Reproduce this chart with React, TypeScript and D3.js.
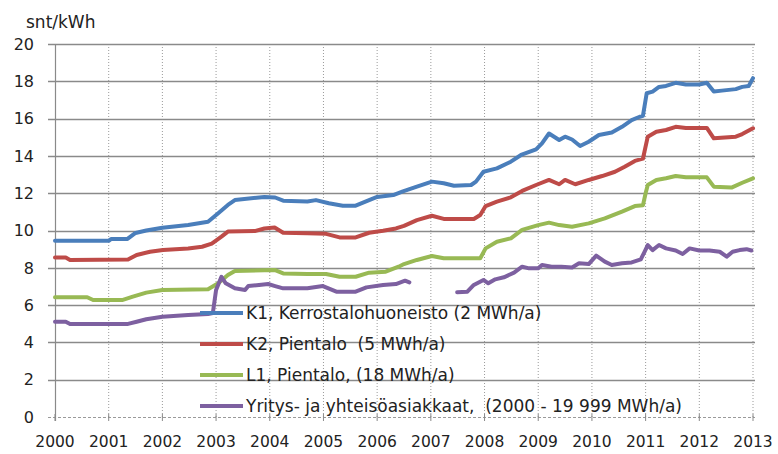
import React from 'react';
import * as d3 from 'd3';

// prices in snt/kWh (decimal years)
const k1Years = [2000.0, 2001.0, 2001.05, 2001.35, 2001.5, 2001.7, 2002.0, 2002.48, 2002.85, 2003.04, 2003.22, 2003.35, 2003.9, 2004.1, 2004.25, 2004.7, 2004.86, 2005.1, 2005.36, 2005.6, 2005.85, 2006.0, 2006.3, 2006.48, 2006.74, 2007.02, 2007.24, 2007.43, 2007.75, 2007.84, 2007.98, 2008.23, 2008.49, 2008.68, 2008.96, 2009.07, 2009.2, 2009.39, 2009.5, 2009.63, 2009.78, 2009.94, 2010.13, 2010.37, 2010.56, 2010.74, 2010.89, 2010.95, 2011.02, 2011.13, 2011.25, 2011.38, 2011.56, 2011.75, 2012.0, 2012.14, 2012.27, 2012.42, 2012.68, 2012.8, 2012.92, 2013.0];
const k1Values = [9.45, 9.45, 9.55, 9.55, 9.87, 10.0, 10.15, 10.3, 10.47, 10.93, 11.37, 11.63, 11.8, 11.77, 11.6, 11.55, 11.63, 11.46, 11.33, 11.33, 11.63, 11.8, 11.9, 12.1, 12.35, 12.62, 12.53, 12.4, 12.44, 12.62, 13.15, 13.33, 13.69, 14.05, 14.35, 14.67, 15.2, 14.85, 15.03, 14.88, 14.53, 14.76, 15.12, 15.25, 15.56, 15.92, 16.1, 16.15, 17.36, 17.45, 17.7, 17.75, 17.92, 17.83, 17.83, 17.92, 17.45, 17.5, 17.58, 17.7, 17.75, 18.17];

const k2Years = [2000.0, 2000.2, 2000.28, 2001.36, 2001.52, 2001.77, 2002.01, 2002.48, 2002.74, 2002.92, 2003.1, 2003.22, 2003.72, 2003.9, 2004.09, 2004.25, 2004.7, 2005.05, 2005.3, 2005.6, 2005.85, 2006.11, 2006.35, 2006.5, 2006.74, 2007.02, 2007.24, 2007.8, 2007.92, 2008.02, 2008.23, 2008.49, 2008.7, 2008.96, 2009.2, 2009.39, 2009.5, 2009.69, 2009.94, 2010.19, 2010.43, 2010.61, 2010.8, 2010.95, 2011.04, 2011.2, 2011.38, 2011.56, 2011.75, 2012.14, 2012.27, 2012.68, 2012.8, 2013.0];
const k2Values = [8.55, 8.55, 8.42, 8.44, 8.69, 8.86, 8.95, 9.04, 9.13, 9.3, 9.67, 9.94, 9.97, 10.11, 10.16, 9.88, 9.85, 9.82, 9.63, 9.63, 9.88, 9.99, 10.11, 10.25, 10.56, 10.79, 10.62, 10.62, 10.83, 11.31, 11.55, 11.78, 12.12, 12.44, 12.71, 12.48, 12.71, 12.48, 12.71, 12.92, 13.15, 13.42, 13.73, 13.85, 15.03, 15.3, 15.39, 15.56, 15.5, 15.5, 14.94, 15.03, 15.17, 15.48];

const l1Years = [2000.0, 2000.6, 2000.71, 2001.25, 2001.45, 2001.7, 2002.0, 2002.85, 2003.04, 2003.22, 2003.35, 2004.1, 2004.25, 2004.7, 2005.05, 2005.3, 2005.6, 2005.85, 2006.16, 2006.4, 2006.5, 2006.74, 2007.02, 2007.24, 2007.92, 2008.02, 2008.23, 2008.49, 2008.7, 2009.0, 2009.2, 2009.39, 2009.63, 2009.94, 2010.24, 2010.56, 2010.8, 2010.95, 2011.0, 2011.04, 2011.2, 2011.38, 2011.56, 2011.75, 2012.14, 2012.27, 2012.6, 2012.8, 2013.0];
const l1Values = [6.42, 6.42, 6.27, 6.27, 6.45, 6.67, 6.81, 6.85, 7.17, 7.61, 7.83, 7.88, 7.7, 7.67, 7.67, 7.52, 7.52, 7.74, 7.79, 8.06, 8.2, 8.42, 8.63, 8.51, 8.51, 9.04, 9.4, 9.58, 10.03, 10.29, 10.42, 10.29, 10.2, 10.38, 10.65, 11.01, 11.31, 11.35, 12.0, 12.44, 12.71, 12.8, 12.92, 12.85, 12.85, 12.35, 12.3, 12.56, 12.8];

// null = no data (gap 2006/2007)
const yrYears = [2000.0, 2000.2, 2000.28, 2001.36, 2001.52, 2001.7, 2002.0, 2002.48, 2002.85, 2002.94, 2003.0, 2003.1, 2003.18, 2003.35, 2003.54, 2003.6, 2003.8, 2003.97, 2004.1, 2004.25, 2004.7, 2004.99, 2005.24, 2005.6, 2005.8, 2006.11, 2006.35, 2006.52, 2006.6, 2007.0, 2007.49, 2007.68, 2007.8, 2007.98, 2008.07, 2008.2, 2008.36, 2008.55, 2008.7, 2008.83, 2009.0, 2009.07, 2009.25, 2009.43, 2009.63, 2009.76, 2009.94, 2010.08, 2010.24, 2010.37, 2010.56, 2010.74, 2010.91, 2010.98, 2011.04, 2011.13, 2011.25, 2011.38, 2011.56, 2011.69, 2011.82, 2012.0, 2012.19, 2012.38, 2012.51, 2012.62, 2012.75, 2012.88, 2012.97];
const yrValues = [5.11, 5.11, 4.99, 4.99, 5.11, 5.24, 5.38, 5.47, 5.52, 5.58, 6.81, 7.52, 7.17, 6.9, 6.81, 7.02, 7.08, 7.13, 7.02, 6.9, 6.9, 7.02, 6.72, 6.72, 6.95, 7.08, 7.13, 7.31, 7.22, null, 6.69, 6.72, 7.08, 7.35, 7.17, 7.38, 7.49, 7.74, 8.06, 7.97, 7.97, 8.15, 8.06, 8.06, 8.02, 8.24, 8.2, 8.65, 8.33, 8.15, 8.24, 8.29, 8.45, 8.86, 9.22, 8.95, 9.22, 9.04, 8.93, 8.74, 9.04, 8.93, 8.93, 8.86, 8.6, 8.86, 8.95, 9.0, 8.93];

const seriesNames = [
  'K1, Kerrostalohuoneisto (2 MWh/a)',
  'K2, Pientalo  (5 MWh/a)',
  'L1, Pientalo, (18 MWh/a)',
  'Yritys- ja yhteisöasiakkaat,  (2000 - 19 999 MWh/a)',
];
const seriesColors = ['#4a7ebb', '#be4b48', '#98b954', '#7d60a0'];

const yearTicks = d3.range(2000, 2014);
const valueTicks = [0, 2, 4, 6, 8, 10, 12, 14, 16, 18, 20];

export default function App() {
  const width = 778;
  const height = 454;
  const left = 55;
  const right = 753;
  const top = 44;
  const bottom = 417;

  const x = d3.scaleLinear().domain([2000, 2013]).range([left, right]);
  const y = d3.scaleLinear().domain([0, 20]).range([bottom, top]);

  const line = d3.line<[number, number | null]>()
    .defined((d) => d[1] !== null)
    .x((d) => x(d[0]))
    .y((d) => y(d[1] as number));

  const series = [
    d3.zip(k1Years, k1Values),
    d3.zip(k2Years, k2Values),
    d3.zip(l1Years, l1Values),
    d3.zip(yrYears, yrValues),
  ] as [number, number | null][][];

  const font = '"DejaVu Sans", Verdana, sans-serif';
  const legendX = 200;
  const legendY = 313;
  const legendStep = 31;

  return (
    <svg width={width} height={height} style={{ position: 'absolute', left: 0, top: 0 }}
      fontFamily={font} fill="#222">
      <rect x="0" y="0" width={width} height={height} fill="#fff" />

      {/* vertical dotted grid */}
      {yearTicks.slice(1).map((yr) => (
        <line key={'v' + yr} x1={x(yr)} x2={x(yr)} y1={top} y2={bottom}
          stroke="#9a9a9a" strokeWidth="1" strokeDasharray="1,2" />
      ))}

      {/* horizontal grid */}
      {valueTicks.map((v) => (
        <g key={'h' + v}>
          <line x1={left - 7} x2={right + 2} y1={Math.round(y(v)) + 0.5} y2={Math.round(y(v)) + 0.5}
            stroke={v === 0 ? '#9a9a9a' : '#8a8a8a'} strokeWidth={v === 0 ? 1 : 1.5}
            strokeDasharray={v === 0 ? '3,2' : undefined} />
          <text x={34} y={y(v)} dy="0.36em" textAnchor="end" fontSize="16">{v}</text>
        </g>
      ))}

      {/* y axis */}
      <line x1={left + 0.5} x2={left + 0.5} y1={top} y2={bottom + 4} stroke="#8a8a8a" strokeWidth="1.2" />

      {/* x ticks + labels */}
      {yearTicks.map((yr) => (
        <g key={'x' + yr}>
          <line x1={x(yr)} x2={x(yr)} y1={bottom - 3} y2={bottom + 4} stroke="#8a8a8a" />
          <text x={x(yr)} y={447} textAnchor="middle" fontSize="15.5">{yr}</text>
        </g>
      ))}

      <text x={26} y={28} fontSize="17">snt/kWh</text>

      {/* data lines */}
      {series.map((s, i) => (
        <path key={'s' + i} d={line(s) || ''} fill="none" stroke={seriesColors[i]}
          strokeWidth="4" strokeLinejoin="round" strokeLinecap="round" />
      ))}

      {/* legend, no background */}
      {seriesNames.map((name, i) => (
        <g key={'l' + i}>
          <line x1={legendX} x2={legendX + 43} y1={legendY + i * legendStep} y2={legendY + i * legendStep}
            stroke={seriesColors[i]} strokeWidth="4" />
          <text x={legendX + 46} y={legendY + i * legendStep} dy="0.36em" fontSize="17"
            style={{ whiteSpace: 'pre' }}>{name}</text>
        </g>
      ))}
    </svg>
  );
}
